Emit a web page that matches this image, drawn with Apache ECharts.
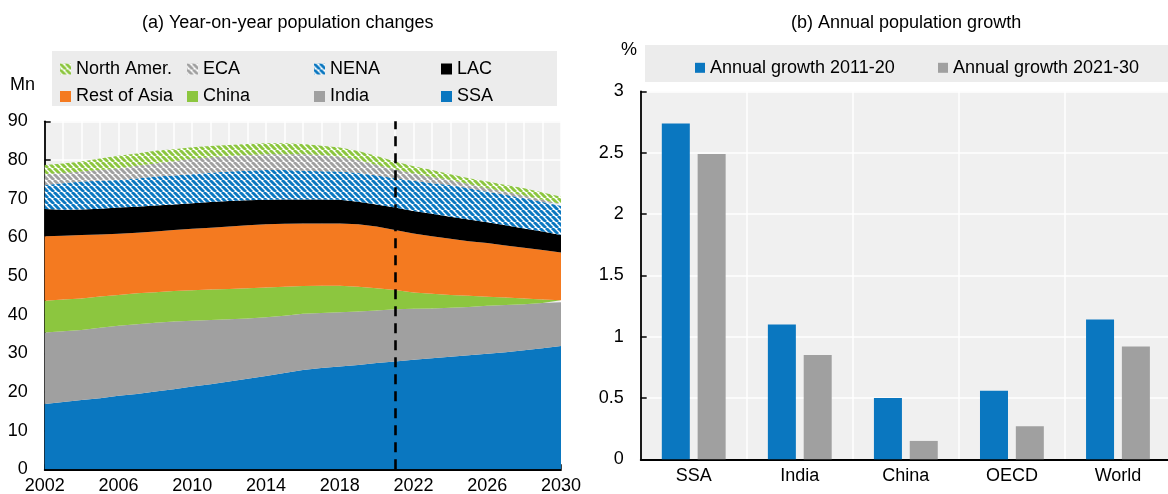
<!DOCTYPE html>
<html><head><meta charset="utf-8">
<script src="https://cdn.jsdelivr.net/npm/echarts@6/dist/echarts.min.js"></script>
<style>html,body{margin:0;padding:0;background:#fff}#c{width:1168px;height:494px}</style>
</head><body><div id="c"></div>
<script>
// ---- Panel (a): year-on-year population changes (Mn) ----
const years = ['2002','2003','2004','2005','2006','2007','2008','2009','2010','2011','2012','2013','2014','2015','2016','2017','2018','2019','2020','2021','2022','2023','2024','2025','2026','2027','2028','2029','2030'];
const ssa        = [16.9,17.4,17.9,18.4,19.0,19.5,20.1,20.7,21.4,22.0,22.7,23.4,24.1,24.9,25.7,26.2,26.6,27.0,27.5,27.9,28.3,28.7,29.1,29.5,29.9,30.3,30.8,31.3,31.9];
const india      = [18.5,18.3,18.1,18.2,18.1,18.0,17.8,17.5,17.0,16.6,16.1,15.6,15.2,14.8,14.5,14.2,14.0,13.8,13.6,13.5,13.2,12.9,12.7,12.5,12.4,12.2,11.9,11.7,11.3];
const china      = [8.2,8.2,8.2,8.1,8.0,8.0,7.9,7.9,7.9,7.9,7.8,7.8,7.7,7.5,7.2,7.1,6.9,6.4,5.7,5.0,4.2,3.8,3.3,2.9,2.3,1.9,1.5,0.9,0.5];
const restOfAsia = [16.7,16.5,16.4,16.0,15.8,15.7,15.7,15.8,15.9,16.0,16.2,16.3,16.4,16.3,16.2,16.1,16.1,16.2,16.0,15.5,15.3,14.9,14.5,14.1,13.9,13.5,13.1,12.8,12.4];
const lac        = [7.0,6.7,6.6,6.7,6.8,6.7,6.7,6.6,6.6,6.6,6.6,6.5,6.3,6.3,6.2,6.2,6.1,5.8,5.7,5.8,5.8,5.8,5.7,5.6,5.4,5.2,5.0,4.8,4.5];
const nena       = [6.2,6.9,7.2,7.2,7.1,7.3,7.5,7.5,7.5,7.6,7.6,7.6,7.7,7.6,7.4,7.3,7.3,7.4,7.5,7.6,7.8,7.9,8.2,8.1,7.9,7.9,7.8,7.6,7.5];
const eca        = [2.8,2.6,2.6,2.8,3.0,3.3,3.4,3.7,4.0,4.0,4.0,4.1,4.1,4.1,4.3,4.2,3.9,3.4,2.7,2.3,1.9,1.6,1.3,1.1,0.9,0.8,0.7,0.6,0.5];
const northAmer  = [2.4,2.5,2.6,3.0,3.3,3.2,3.3,3.1,3.0,2.9,2.9,2.8,2.8,2.8,2.6,2.4,2.3,2.3,2.3,2.0,1.9,1.8,1.5,1.5,1.7,1.7,1.9,1.9,1.9];
const dividerYear = '2021';

// ---- Panel (b): annual population growth (%) ----
const barCategories = ['SSA','India','China','OECD','World'];
const growth2011_20 = [2.74, 1.10, 0.50, 0.56, 1.14];
const growth2021_30 = [2.49, 0.85, 0.15, 0.27, 0.92];

const FONT = '"Liberation Sans", Arial, sans-serif';
const FS = 18;
const BLUE = '#0a77c0', GREY = '#a0a0a0', GREEN = '#8cc63f', ORANGE = '#f47a20';

function hatch(color) {
  const s = 6;
  const c = document.createElement('canvas');
  c.width = s; c.height = s;
  const ctx = c.getContext('2d');
  ctx.fillStyle = '#ffffff'; ctx.fillRect(0, 0, s, s);
  ctx.strokeStyle = color; ctx.lineWidth = 2.9;
  ctx.beginPath();
  for (let o = -s; o <= s; o += s) { ctx.moveTo(o, 0); ctx.lineTo(o + s, s); }
  ctx.stroke();
  return { image: c, repeat: 'repeat' };
}

const areaDefs = [
  ['SSA', ssa, BLUE],
  ['India', india, GREY],
  ['China', china, GREEN],
  ['Rest of Asia', restOfAsia, ORANGE],
  ['LAC', lac, '#000000'],
  ['NENA', nena, hatch(BLUE)],
  ['ECA', eca, hatch(GREY)],
  ['North Amer.', northAmer, hatch(GREEN)]
];

const areaSeries = areaDefs.map(([name, vals, col], i) => {
  const s = {
    name, type: 'line', stack: 'pop', xAxisIndex: 0, yAxisIndex: 0,
    data: vals, showSymbol: false, symbol: 'none', smooth: false,
    itemStyle: { color: col },
    lineStyle: { width: 0 },
    areaStyle: { color: col, opacity: 1 },
    silent: true
  };
  if (i === areaDefs.length - 1) {
    s.markLine = {
      silent: true, symbol: ['none', 'none'], label: { show: false },
      lineStyle: { color: '#000', type: [10, 7], width: 2.6 },
      data: [{ xAxis: dividerYear }]
    };
  }
  return s;
});

const txt = { color: '#000', fontFamily: FONT, fontSize: FS };

// legend layout (panel a): 4 columns x 2 rows
const legA = [
  ['North Amer.', 60, 60], ['ECA', 187, 60], ['NENA', 314, 60], ['LAC', 441, 60],
  ['Rest of Asia', 60, 87.5], ['China', 187, 87.5], ['India', 314, 87.5], ['SSA', 441, 87.5]
];
const legends = legA.map(([n, x, y]) => ({
  data: [n], left: x, top: y, padding: 0, itemWidth: 11, itemHeight: 11, itemGap: 0,
  icon: 'rect', selectedMode: false,
  textStyle: Object.assign({}, txt, { lineHeight: 11, padding: [0, 0, 0, 0] })
}));
legends.push(
  { data: ['Annual growth 2011-20'], left: 695, top: 58.8, padding: 0, itemWidth: 10, itemHeight: 10, icon: 'rect', selectedMode: false,
    textStyle: Object.assign({}, txt, { lineHeight: 10 }) },
  { data: ['Annual growth 2021-30'], left: 938, top: 58.8, padding: 0, itemWidth: 10, itemHeight: 10, icon: 'rect', selectedMode: false,
    textStyle: Object.assign({}, txt, { lineHeight: 10 }) }
);

const chart = echarts.init(document.getElementById('c'), null, { renderer: 'canvas' });
chart.setOption({
  animation: false,
  backgroundColor: '#ffffff',
  graphic: [
    { type: 'rect', shape: { x: 52, y: 51, width: 505, height: 55 }, style: { fill: '#ececec' }, z: -10, silent: true },
    { type: 'rect', shape: { x: 645, y: 45, width: 530, height: 37 }, style: { fill: '#ececec' }, z: -10, silent: true },
    { type: 'text', x: 142, y: 23, style: { text: '(a) Year-on-year population changes', fill: '#000', fontSize: FS, fontFamily: FONT, verticalAlign: 'middle', align: 'left' }, silent: true },
    { type: 'text', x: 791, y: 23, style: { text: '(b) Annual population growth', fill: '#000', fontSize: FS, fontFamily: FONT, verticalAlign: 'middle', align: 'left' }, silent: true },
    { type: 'text', x: 10, y: 85, style: { text: 'Mn', fill: '#000', fontSize: FS, fontFamily: FONT, verticalAlign: 'middle', align: 'left' }, silent: true },
    { type: 'text', x: 621, y: 50, style: { text: '%', fill: '#000', fontSize: FS, fontFamily: FONT, verticalAlign: 'middle', align: 'left' }, silent: true }
  ],
  legend: legends,
  grid: [
    { left: 44.7, width: 516.3, top: 121.3, height: 348, containLabel: false, outerBoundsMode: 'none', show: true, backgroundColor: '#f0f0f0', borderWidth: 0 },
    { left: 640.7, width: 530.3, top: 91.5, height: 367.8, containLabel: false, outerBoundsMode: 'none', show: true, backgroundColor: '#f0f0f0', borderWidth: 0 }
  ],
  xAxis: [
    { gridIndex: 0, type: 'category', data: years, boundaryGap: false,
      axisLine: { lineStyle: { color: '#000', width: 1.8 } },
      axisTick: { inside: true, interval: 0, length: 5, lineStyle: { color: '#000', width: 1.5 } },
      axisLabel: Object.assign({ interval: 3, margin: 8 }, txt),
      splitLine: { show: true, interval: 0, lineStyle: { color: '#ffffff', width: 1.5 } } },
    { gridIndex: 1, type: 'category', data: barCategories, boundaryGap: true,
      axisLine: { lineStyle: { color: '#000', width: 1.8 } },
      axisTick: { inside: true, interval: 0, length: 5, alignWithLabel: false, lineStyle: { color: '#000', width: 1.5 } },
      axisLabel: Object.assign({ interval: 0, margin: 8 }, txt),
      splitLine: { show: true, interval: 0, lineStyle: { color: '#ffffff', width: 1.5 } } }
  ],
  yAxis: [
    { gridIndex: 0, type: 'value', min: 0, max: 90, interval: 10,
      axisLine: { show: true, lineStyle: { color: '#000', width: 1.8 } },
      axisTick: { show: true, inside: true, length: 6, lineStyle: { color: '#000', width: 1.5 } },
      axisLabel: Object.assign({ margin: 17 }, txt),
      splitLine: { show: true, lineStyle: { color: '#ffffff', width: 1.5 } } },
    { gridIndex: 1, type: 'value', min: 0, max: 3, interval: 0.5,
      axisLine: { show: true, lineStyle: { color: '#000', width: 1.8 } },
      axisTick: { show: true, inside: true, length: 6, lineStyle: { color: '#000', width: 1.5 } },
      axisLabel: Object.assign({ margin: 17 }, txt),
      splitLine: { show: true, lineStyle: { color: '#ffffff', width: 1.5 } } }
  ],
  series: areaSeries.concat([
    { name: 'Annual growth 2011-20', type: 'bar', xAxisIndex: 1, yAxisIndex: 1, data: growth2011_20,
      barWidth: 28, barGap: '28%', itemStyle: { color: BLUE }, silent: true },
    { name: 'Annual growth 2021-30', type: 'bar', xAxisIndex: 1, yAxisIndex: 1, data: growth2021_30,
      barWidth: 28, barGap: '28%', itemStyle: { color: GREY }, silent: true }
  ])
});
</script>
</body></html>
